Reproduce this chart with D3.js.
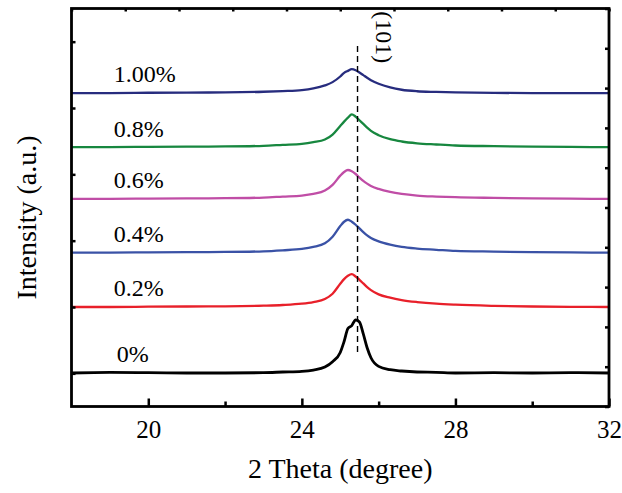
<!DOCTYPE html>
<html>
<head>
<meta charset="utf-8">
<script src="https://cdn.jsdelivr.net/npm/d3@7"></script>
<style>
 body { margin: 0; background: #fff; }
 svg text { font-family: "Liberation Serif", "Times New Roman", "DejaVu Serif", serif !important; fill: #000; }
</style>
</head>
<body>
<div id="chart"></div>
<script>
//2 theta positions shared by every pattern
var theta = [18, 19, 20, 21, 22, 23, 23.5, 24, 24.3, 24.6, 24.8, 25.0, 25.1, 25.2, 25.3, 25.4, 25.5, 25.6, 25.7, 25.8, 26.0, 26.3, 26.6, 27, 27.5, 28, 29, 30, 31, 32];

//sample names, colours and vertical offsets
var samples = ["0%", "0.2%", "0.4%", "0.6%", "0.8%", "1.00%"];
var colors = ["#000000", "#e8202a", "#3a52a6", "#c04da6", "#17873f", "#272c7e"];
var offsets = [10.1, 30.0, 46.4, 62.6, 78.2, 94.5];

//intensity above the offset for each sample
var i0   = [0, 0.2, 0.1, 0, 0, 0.1, 0.3, 0.5, 0.9, 1.8, 3.4, 6.2, 9.5, 13.4, 14.3, 16.0, 15.4, 11.8, 7.6, 4.6, 2.0, 1.0, 0.6, 0.3, 0.2, 0, 0.1, 0, 0.1, 0];
var i02  = [0, 0, 0.1, 0.15, 0.2, 0.4, 0.6, 1.0, 1.5, 2.4, 4.0, 7.0, 8.4, 9.4, 9.9, 9.2, 8.2, 7.1, 6.0, 5.1, 3.8, 2.8, 2.1, 1.5, 1.0, 0.7, 0.35, 0.15, 0.05, 0];
var i04  = [0, 0, 0.1, 0.15, 0.2, 0.4, 0.7, 1.1, 1.7, 2.8, 4.8, 8.0, 9.3, 9.9, 9.3, 8.4, 7.3, 6.2, 5.2, 4.4, 3.4, 2.4, 1.7, 1.2, 0.85, 0.5, 0.3, 0.15, 0.05, 0];
var i06  = [0, 0, 0.1, 0.15, 0.2, 0.4, 0.7, 1.0, 1.5, 2.5, 4.2, 7.0, 8.1, 8.7, 8.3, 7.5, 6.4, 5.4, 4.6, 3.9, 3.0, 2.1, 1.5, 1.0, 0.7, 0.5, 0.3, 0.15, 0.05, 0];
var i08  = [0, 0, 0.1, 0.15, 0.2, 0.4, 0.7, 1.0, 1.5, 2.3, 3.8, 6.4, 7.7, 8.9, 9.9, 9.2, 8.1, 7.0, 5.9, 4.9, 3.6, 2.4, 1.7, 1.15, 0.8, 0.5, 0.3, 0.15, 0.05, 0];
var i100 = [0, 0, 0.1, 0.15, 0.2, 0.4, 0.6, 0.9, 1.4, 2.3, 3.3, 5.0, 6.1, 6.7, 7.2, 6.9, 6.2, 5.4, 4.6, 3.9, 2.8, 1.7, 1.0, 0.55, 0.35, 0.2, 0.05, 0, 0, 0];
var intensities = [i0, i02, i04, i06, i08, i100];

//axis ticks
var majorTicks = [20, 24, 28, 32];
var minorTicks = [22, 26, 30];
var leftTicks = [10, 30, 50, 70, 90, 110];

//(101) reflection position
var peak101 = 25.45;

var width = 622, height = 493;
var margin = {left: 71.5, right: 13, top: 8.5, bottom: 86.5};
var plotW = width - margin.left - margin.right;
var plotH = height - margin.top - margin.bottom;
var serif = "Liberation Serif, Times New Roman, DejaVu Serif, serif";

var svg = d3.select("#chart").append("svg").attr("width", width).attr("height", height);
var g = svg.append("g").attr("transform", "translate(" + margin.left + "," + margin.top + ")");

var x = d3.scaleLinear().domain([18, 32]).range([0, plotW]);
var y = d3.scaleLinear().domain([0, 120]).range([plotH, 0]);
//the top and right frames carry plain evenly spaced marks
var frameX = d3.scaleLinear().domain([0, 10]).range([0, plotW]);
var frameY = d3.scaleLinear().domain([0, 10]).range([plotH, 0]);

//patterns
var line = d3.line().x(function(d) { return x(d[0]); }).y(function(d) { return y(d[1]); }).curve(d3.curveMonotoneX);

samples.forEach(function(s, k)
{
 var pts = theta.map(function(t, i) { return [t, offsets[k] + intensities[k][i]]; });
 g.append("path").datum(pts).attr("d", line).attr("fill", "none")
  .attr("stroke", colors[k]).attr("stroke-width", k == 0 ? 2.8 : 2.3).attr("stroke-linejoin", "round");
});

//sample labels
samples.forEach(function(s, k)
{
 g.append("text").attr("x", x(19.1) + (k == 0 ? 3 : 0)).attr("y", y(offsets[k] + 3.2))
  .attr("font-family", serif).attr("font-size", 24).text(s);
});

//dashed line at (101)
g.append("line").attr("x1", x(peak101)).attr("x2", x(peak101)).attr("y1", y(108.7)).attr("y2", y(15.4))
 .attr("stroke", "#000").attr("stroke-width", 1.4).attr("stroke-dasharray", "6,4");
g.append("text").attr("transform", "translate(" + (x(peak101) + 18) + "," + y(119.2) + ") rotate(90)")
 .attr("font-family", serif).attr("font-size", 24).text("(101)");

//bottom axis
var bottom = g.append("g").attr("transform", "translate(0," + plotH + ")")
 .call(d3.axisBottom(x).tickValues(majorTicks).tickSize(-8).tickSizeOuter(0).tickPadding(14).tickFormat(d3.format("d")));
bottom.attr("font-family", serif);
bottom.selectAll("text").attr("font-size", 25).attr("font-family", serif);
bottom.selectAll("line").attr("stroke-width", 2.5);
bottom.select(".domain").remove();
g.append("g").attr("transform", "translate(0," + plotH + ")")
 .call(d3.axisBottom(x).tickValues(minorTicks).tickSize(-5).tickSizeOuter(0).tickFormat(""))
 .call(function(a) { a.select(".domain").remove(); a.selectAll("line").attr("stroke-width", 2.5); });

//left axis
g.append("g").call(d3.axisLeft(y).tickValues(leftTicks).tickSize(-4).tickSizeOuter(0).tickFormat(""))
 .call(function(a) { a.select(".domain").remove(); a.selectAll("line").attr("stroke-width", 2.5); });

//top and right frame ticks
g.append("g").call(d3.axisTop(frameX).ticks(10).tickSize(-3).tickSizeOuter(0).tickFormat(""))
 .call(function(a) { a.select(".domain").remove(); a.selectAll("line").attr("stroke-width", 2.5); });
g.append("g").attr("transform", "translate(" + plotW + ",0)")
 .call(d3.axisRight(frameY).ticks(10).tickSize(-4).tickSizeOuter(0).tickFormat(""))
 .call(function(a) { a.select(".domain").remove(); a.selectAll("line").attr("stroke-width", 2.5); });

//frame
g.append("rect").attr("width", plotW).attr("height", plotH).attr("fill", "none")
 .attr("stroke", "#000").attr("stroke-width", 2.8);

//axis titles
svg.append("text").attr("x", margin.left + plotW / 2).attr("y", 478).attr("text-anchor", "middle")
 .attr("font-family", serif).attr("font-size", 28).text("2 Theta (degree)");
svg.append("text").attr("transform", "translate(36," + (margin.top + plotH / 2 + 10) + ") rotate(-90)")
 .attr("text-anchor", "middle").attr("font-family", serif).attr("font-size", 28).text("Intensity (a.u.)");
</script>
</body>
</html>
